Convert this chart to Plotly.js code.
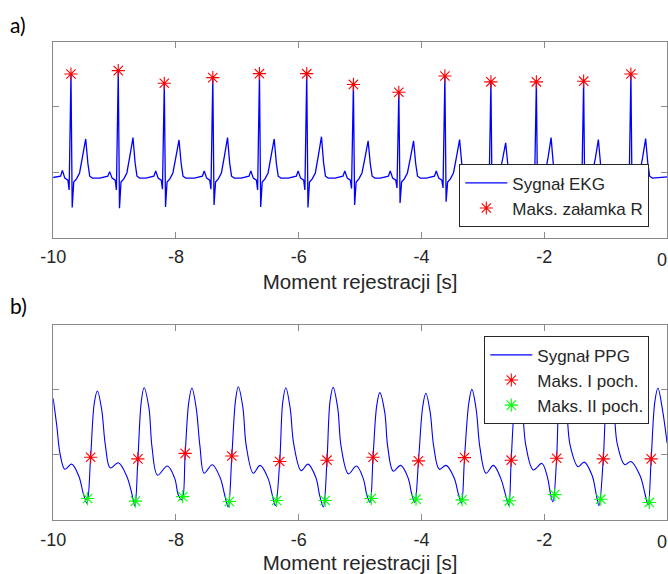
<!DOCTYPE html>
<html>
<head>
<meta charset="utf-8">
<script src="https://cdn.plot.ly/plotly-3.0.1.min.js"></script>
<style>html,body{margin:0;padding:0;background:#fff;}#chart{width:668px;height:574px;}</style>
</head>
<body>
<div id="chart"></div>
<script>
// ---------- Panel a) ECG ----------
const ecgTime = [
  -10.00, -9.88, -9.85, -9.81, -9.76, -9.74, -9.71, -9.69, -9.665, -9.62, -9.57, -9.52, -9.47, -9.435, -9.405, -9.36,
  -9.24, -9.11, -9.08, -9.04, -8.99, -8.97, -8.94, -8.92, -8.895, -8.85, -8.80, -8.75, -8.70, -8.665, -8.635, -8.59,
  -8.49, -8.36, -8.33, -8.29, -8.24, -8.22, -8.19, -8.17, -8.145, -8.10, -8.05, -8.00, -7.95, -7.915, -7.885, -7.84,
  -7.70, -7.57, -7.54, -7.50, -7.45, -7.43, -7.40, -7.38, -7.355, -7.31, -7.26, -7.21, -7.16, -7.125, -7.095, -7.05,
  -6.94, -6.81, -6.78, -6.74, -6.69, -6.67, -6.64, -6.62, -6.595, -6.55, -6.50, -6.45, -6.40, -6.365, -6.335, -6.29,
  -6.17, -6.04, -6.01, -5.97, -5.92, -5.90, -5.87, -5.85, -5.825, -5.78, -5.73, -5.68, -5.63, -5.595, -5.565, -5.52,
  -5.41, -5.28, -5.25, -5.21, -5.16, -5.14, -5.11, -5.09, -5.065, -5.02, -4.97, -4.92, -4.87, -4.835, -4.805, -4.76,
  -4.67, -4.54, -4.51, -4.47, -4.42, -4.40, -4.37, -4.35, -4.325, -4.28, -4.23, -4.18, -4.13, -4.095, -4.065, -4.02,
  -3.92, -3.79, -3.76, -3.72, -3.67, -3.65, -3.62, -3.60, -3.575, -3.53, -3.48, -3.43, -3.38, -3.345, -3.315, -3.27,
  -3.17, -3.04, -3.01, -2.97, -2.92, -2.90, -2.87, -2.85, -2.825, -2.78, -2.73, -2.68, -2.63, -2.595, -2.565, -2.52,
  -2.43, -2.30, -2.27, -2.23, -2.18, -2.16, -2.13, -2.11, -2.085, -2.04, -1.99, -1.94, -1.89, -1.855, -1.825, -1.78,
  -1.66, -1.53, -1.50, -1.46, -1.41, -1.39, -1.36, -1.34, -1.315, -1.27, -1.22, -1.17, -1.12, -1.085, -1.055, -1.01,
  -0.89, -0.76, -0.73, -0.69, -0.64, -0.62, -0.59, -0.57, -0.545, -0.50, -0.45, -0.40, -0.35, -0.315, -0.285, -0.24,
  -0.12, 0.00
];
const ecgValue = [
  -0.08, -0.06, 0.03, -0.09, -0.12, -0.27, 1.505, -0.54, -0.15, -0.10, -0.01, 0.25, 0.51, 0.14, -0.06, -0.09,
  -0.09, -0.06, 0.01, -0.09, -0.12, -0.27, 1.556, -0.55, -0.15, -0.10, -0.01, 0.25, 0.53, 0.14, -0.06, -0.09,
  -0.09, -0.06, 0.02, -0.09, -0.12, -0.26, 1.363, -0.53, -0.15, -0.10, -0.01, 0.24, 0.495, 0.13, -0.06, -0.09,
  -0.09, -0.06, 0.02, -0.09, -0.12, -0.26, 1.449, -0.50, -0.15, -0.10, -0.01, 0.25, 0.53, 0.14, -0.06, -0.09,
  -0.09, -0.06, 0.02, -0.09, -0.12, -0.27, 1.510, -0.53, -0.15, -0.10, -0.01, 0.25, 0.51, 0.14, -0.06, -0.09,
  -0.09, -0.06, 0.02, -0.09, -0.12, -0.27, 1.510, -0.54, -0.15, -0.10, -0.01, 0.26, 0.545, 0.14, -0.06, -0.09,
  -0.09, -0.06, 0.02, -0.09, -0.12, -0.25, 1.345, -0.50, -0.15, -0.10, -0.01, 0.23, 0.48, 0.13, -0.06, -0.09,
  -0.09, -0.06, 0.02, -0.09, -0.12, -0.24, 1.225, -0.47, -0.15, -0.10, -0.01, 0.23, 0.48, 0.13, -0.06, -0.09,
  -0.09, -0.06, 0.02, -0.09, -0.12, -0.24, 1.475, -0.45, -0.15, -0.10, -0.01, 0.24, 0.50, 0.13, -0.06, -0.09,
  -0.09, -0.06, 0.02, -0.09, -0.12, -0.25, 1.385, -0.50, -0.15, -0.10, -0.02, 0.20, 0.45, 0.12, -0.06, -0.09,
  -0.09, -0.06, 0.02, -0.09, -0.12, -0.25, 1.385, -0.50, -0.15, -0.10, -0.02, 0.22, 0.53, 0.14, -0.06, -0.09,
  -0.09, -0.06, 0.02, -0.09, -0.12, -0.25, 1.395, -0.50, -0.15, -0.10, -0.02, 0.21, 0.50, 0.13, -0.06, -0.09,
  -0.09, -0.06, 0.02, -0.09, -0.12, -0.26, 1.505, -0.50, -0.15, -0.10, -0.02, 0.22, 0.515, 0.14, -0.06, -0.09,
  -0.08, -0.07
];
const rPeakTime  = [-9.71, -8.94, -8.19, -7.40, -6.64, -5.87, -5.11, -4.37, -3.62, -2.87, -2.13, -1.36, -0.59];
const rPeakValue = [1.505, 1.556, 1.363, 1.449, 1.510, 1.510, 1.345, 1.225, 1.475, 1.385, 1.385, 1.395, 1.505];

// ---------- Panel b) PPG ----------
const ppgTime = [
  -10.00, -9.94, -9.89, -9.81, -9.70, -9.58, -9.51,
  -9.45, -9.39, -9.33, -9.28, -9.21, -9.15, -9.07, -8.94, -8.80, -8.72,
  -8.67, -8.62, -8.565, -8.52, -8.44, -8.39, -8.30, -8.14, -8.02, -7.96,
  -7.90, -7.85, -7.79, -7.74, -7.67, -7.61, -7.54, -7.41, -7.28, -7.21,
  -7.15, -7.09, -7.03, -6.985, -6.91, -6.855, -6.74, -6.63, -6.50, -6.43,
  -6.38, -6.31, -6.26, -6.21, -6.14, -6.08, -5.96, -5.85, -5.72, -5.66,
  -5.60, -5.54, -5.49, -5.44, -5.365, -5.31, -5.19, -5.06, -4.95, -4.89,
  -4.84, -4.79, -4.73, -4.68, -4.60, -4.55, -4.46, -4.34, -4.22, -4.16,
  -4.11, -4.05, -3.98, -3.93, -3.86, -3.80, -3.71, -3.60, -3.47, -3.40,
  -3.35, -3.30, -3.23, -3.18, -3.11, -3.05, -2.95, -2.83, -2.71, -2.63,
  -2.58, -2.54, -2.48, -2.43, -2.36, -2.30, -2.18, -2.04, -1.95, -1.90,
  -1.86, -1.80, -1.76, -1.71, -1.64, -1.58, -1.45, -1.35, -1.22, -1.16,
  -1.11, -1.04, -0.99, -0.94, -0.87, -0.81, -0.69, -0.59, -0.44, -0.36,
  -0.31, -0.26, -0.20, -0.15, -0.08, 0.00
];
const ppgValue = [
  0.87, 0.44, 0.03, -0.22, -0.14, -0.33, -0.59,
  -0.74, -0.035, 0.80, 0.985, 0.70, 0.15, -0.20, -0.12, -0.33, -0.59,
  -0.78, -0.06, 0.82, 1.035, 0.72, 0.12, -0.31, -0.17, -0.36, -0.62,
  -0.69, 0.025, 0.82, 1.03, 0.72, 0.14, -0.28, -0.15, -0.35, -0.60,
  -0.80, -0.015, 0.84, 1.05, 0.73, 0.14, -0.28, -0.16, -0.36, -0.62,
  -0.78, -0.10, 0.82, 1.035, 0.72, 0.16, -0.24, -0.14, -0.35, -0.62,
  -0.80, -0.08, 0.83, 1.04, 0.72, 0.13, -0.29, -0.17, -0.36, -0.62,
  -0.73, -0.035, 0.76, 0.96, 0.66, 0.12, -0.25, -0.16, -0.35, -0.60,
  -0.73, -0.09, 0.75, 0.95, 0.66, 0.12, -0.22, -0.16, -0.35, -0.60,
  -0.74, -0.04, 0.80, 1.01, 0.70, 0.12, -0.28, -0.16, -0.36, -0.62,
  -0.77, -0.08, 0.80, 1.00, 0.70, 0.14, -0.23, -0.13, -0.34, -0.60,
  -0.72, -0.05, 0.80, 1.00, 0.70, 0.15, -0.18, -0.11, -0.32, -0.58,
  -0.78, -0.06, 0.80, 1.00, 0.70, 0.16, -0.15, -0.10, -0.32, -0.60,
  -0.77, -0.06, 0.82, 1.03, 0.72, 0.18
];
const firstDerivTime  = [-9.39, -8.62, -7.85, -7.09, -6.31, -5.54, -4.79, -4.05, -3.30, -2.54, -1.80, -1.04, -0.26];
const firstDerivValue = [-0.035, -0.06, 0.025, -0.015, -0.10, -0.08, -0.035, -0.09, -0.04, -0.08, -0.05, -0.06, -0.06];
const secondDerivTime  = [-9.44, -8.66, -7.89, -7.13, -6.36, -5.57, -4.82, -4.09, -3.34, -2.57, -1.83, -1.08, -0.29];
const secondDerivValue = [-0.67, -0.71, -0.64, -0.715, -0.70, -0.70, -0.67, -0.68, -0.69, -0.705, -0.61, -0.68, -0.73];

// tick labels: the last one ("0") sits flush against the right frame, so it is
// drawn by an overlaid axis whose label is right-aligned at its tick
const xTicks = [-10, -8, -6, -4, -2];
const xTickText = ['-10', '-8', '-6', '-4', '-2'];
const xEndTick = [0];
const xEndTickText = ['0'];
const xTitle = 'Moment rejestracji [s]';

const BLUE = '#0000ff', RED = '#ff0000', GREEN = '#00ff00';
const star = (c) => ({symbol: 'asterisk-open', size: 11, color: c, line: {color: c, width: 1.1}});

const traces = [
  {x: ecgTime, y: ecgValue, type: 'scatter', mode: 'lines', name: 'Sygnał EKG',
   line: {color: BLUE, width: 1.3}, xaxis: 'x', yaxis: 'y', legend: 'legend'},
  {x: rPeakTime, y: rPeakValue, type: 'scatter', mode: 'markers', name: 'Maks. załamka R',
   marker: star(RED), xaxis: 'x', yaxis: 'y', legend: 'legend'},
  {x: ppgTime, y: ppgValue, type: 'scatter', mode: 'lines', name: 'Sygnał PPG',
   line: {color: BLUE, width: 1.1, shape: 'spline', smoothing: 1}, xaxis: 'x2', yaxis: 'y2', legend: 'legend2'},
  {x: firstDerivTime, y: firstDerivValue, type: 'scatter', mode: 'markers', name: 'Maks. I poch.',
   marker: star(RED), xaxis: 'x2', yaxis: 'y2', legend: 'legend2'},
  {x: secondDerivTime, y: secondDerivValue, type: 'scatter', mode: 'markers', name: 'Maks. II poch.',
   marker: star(GREEN), xaxis: 'x2', yaxis: 'y2', legend: 'legend2'},
  // empty traces so the overlaid end-label axes are drawn (no marks)
  {x: [], y: [], type: 'scatter', mode: 'lines', xaxis: 'x3', yaxis: 'y', showlegend: false, hoverinfo: 'skip'},
  {x: [], y: [], type: 'scatter', mode: 'lines', xaxis: 'x4', yaxis: 'y2', showlegend: false, hoverinfo: 'skip'}
];

const AX = '#8a8a8a';
const FONT = 'Liberation Sans, Arial, Helvetica, sans-serif';
const XDOM = [0.0796, 0.9987];
function xAxis(anchor) {
  return {
    domain: XDOM, anchor: anchor, range: [-10, 0],
    tickvals: xTicks.concat(xEndTick), ticktext: xTickText.concat(['']),
    ticks: 'inside', ticklen: 6, tickwidth: 1, tickcolor: AX,
    showline: true, linecolor: AX, linewidth: 1, mirror: 'ticks', showgrid: false, zeroline: false,
    tickfont: {size: 18, color: '#262626', family: FONT}, ticklabelstandoff: 3,
    title: {text: xTitle, font: {size: 20.5, color: '#262626', family: FONT}, standoff: 8},
    automargin: false, fixedrange: true
  };
}
function xEndAxis(overlay, anchor) {
  return {
    domain: XDOM, anchor: anchor, overlaying: overlay, range: [-10, 0], side: 'bottom',
    tickmode: 'array', tickvals: xEndTick, ticktext: xEndTickText, ticks: '', showline: false,
    showgrid: false, zeroline: false, showticklabels: true,
    ticklabelposition: 'outside left', ticklabelstandoff: 9, ticklabeloverflow: 'allow',
    tickfont: {size: 18, color: '#262626', family: FONT}, automargin: false, fixedrange: true
  };
}
function yAxis(anchor, domain) {
  return {
    domain: domain, anchor: anchor, range: [-1, 2], tickvals: [0, 1], showticklabels: false,
    ticks: 'inside', ticklen: 6, tickwidth: 1, tickcolor: AX,
    showline: true, linecolor: AX, linewidth: 1, mirror: 'ticks', showgrid: false, zeroline: false,
    automargin: false, fixedrange: true
  };
}

const layout = {
  width: 668, height: 574,
  margin: {l: 0, r: 0, t: 0, b: 0},
  paper_bgcolor: '#ffffff', plot_bgcolor: '#ffffff',
  font: {family: FONT, color: '#262626'},
  showlegend: true,
  xaxis: xAxis('y'),
  yaxis: yAxis('x', [0.5861, 0.9274]),
  xaxis2: xAxis('y2'),
  yaxis2: yAxis('x2', [0.0941, 0.4338]),
  xaxis3: xEndAxis('x', 'y'),
  xaxis4: xEndAxis('x2', 'y2'),
  legend: {x: 0.6876, y: 0.7137, xanchor: 'left', yanchor: 'top', bgcolor: '#ffffff',
           bordercolor: '#262626', borderwidth: 1, font: {size: 17, color: '#262626', family: FONT},
           itemwidth: 42, tracegroupgap: 0},
  legend2: {x: 0.7250, y: 0.4140, xanchor: 'left', yanchor: 'top', bgcolor: '#ffffff',
            bordercolor: '#262626', borderwidth: 1, font: {size: 17, color: '#262626', family: FONT},
            itemwidth: 42, tracegroupgap: 0},
  annotations: [
    {text: 'a)', xref: 'paper', yref: 'paper', x: 0.012, y: 0.957, xanchor: 'left', yanchor: 'middle',
     showarrow: false, font: {size: 21, family: 'Lato, Open Sans, sans-serif', color: '#000000'}},
    {text: 'b)', xref: 'paper', yref: 'paper', x: 0.012, y: 0.467, xanchor: 'left', yanchor: 'middle',
     showarrow: false, font: {size: 21, family: 'Lato, Open Sans, sans-serif', color: '#000000'}}
  ]
};

Plotly.newPlot('chart', traces, layout, {displayModeBar: false, staticPlot: true});
</script>
</body>
</html>
